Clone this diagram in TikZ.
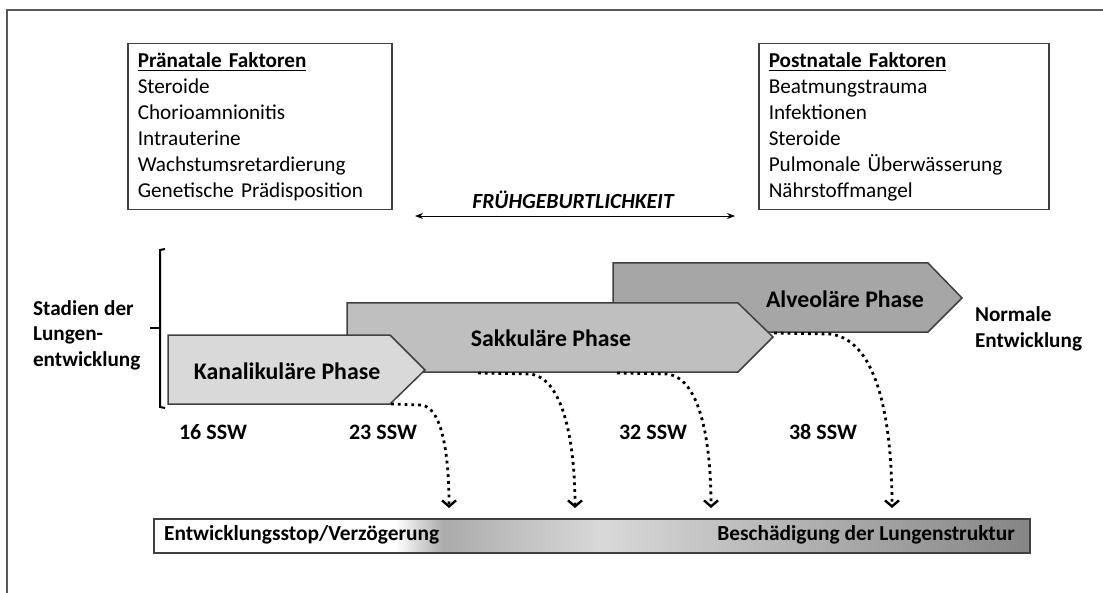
\documentclass[tikz,border=0pt]{standalone}
\usepackage{fontspec}
\setmainfont{Carlito}
\usetikzlibrary{arrows.meta}

\definecolor{rahmen}{HTML}{404040}
\definecolor{kanalgrau}{HTML}{D9D9D9}
\definecolor{sakkgrau}{HTML}{BFBFBF}
\definecolor{alvgrau}{HTML}{A6A6A6}

% bar shading: stops between 25bp and 75bp cover the bar
\pgfdeclarehorizontalshading{schadenbalken}{100bp}{%
  color(0bp)=(white); color(25bp)=(white); color(38.8bp)=(white);
  color(41.5bp)=(black!33); color(50.5bp)=(black!15);
  color(75bp)=(black!48); color(100bp)=(black!48)}

\tikzset{
  faktorbox/.style={draw=rahmen, line width=0.75pt, align=left, anchor=north west,
    inner xsep=5pt, minimum height=83pt,
    font=\fontsize{10.6}{13}\selectfont},
  phase/.style={draw=rahmen, line width=0.75pt},
  phasetext/.style={font=\fontsize{11.9}{14}\selectfont\bfseries},
  ssw/.style={font=\fontsize{11}{13}\selectfont\bfseries},
  randtext/.style={font=\fontsize{10.6}{12.7}\selectfont\bfseries, align=left, anchor=west},
  schaden/.style={-{Straight Barb[length=3pt,width=7pt,line width=1.2pt]},
    line width=1.4pt, dotted},
}

\begin{document}
\begin{tikzpicture}[x=0.5pt, y=-0.5pt]
  \useasboundingbox (0,0) rectangle (1103,593);
  % frame
  \draw [line width=1.2pt, black!65] (1103,10) -- (7,10) -- (7,593);

  % factors
  \node [faktorbox, text width=122pt] (prae) at (127,43)
    {\textbf{\underline{Pränatale Faktoren}}\\ Steroide\\ Chorioamnionitis\\
     Intrauterine\\ Wachstumsretardierung\\ Genetische Prädisposition};
  \node [faktorbox, text width=135pt] (post) at (758,43)
    {\textbf{\underline{Postnatale Faktoren}}\\ Beatmungstrauma\\ Infektionen\\
     Steroide\\ Pulmonale Überwässerung\\ Nährstoffmangel};

  % preterm birth
  \node [font=\fontsize{10.8}{13}\selectfont\bfseries\itshape] (frueh) at (573,200) {FRÜHGEBURTLICHKEIT};
  \coordinate (frueh-l) at (415,216);
  \coordinate (frueh-r) at (735,216);
  \draw [{Stealth[length=4pt,width=3pt]}-{Stealth[length=4pt,width=3pt]}, thin] (frueh-l) -- (frueh-r);

  % stages
  \draw [line width=1pt] (165,249) -- (160,250) -- (160,407) -- (165,408);
  \draw [line width=1pt] (150,328) -- (160,328);
  \node [randtext] (stadien) at (26,335) {Stadien der\\ Lungen-\\ entwicklung};

  \draw [phase, fill=alvgrau] (613,263) -- (928,263) -- (962,298) -- (928,332) -- (613,332) -- cycle;
  \draw [phase, fill=sakkgrau] (347,303) -- (738,303) -- (773,337) -- (738,372) -- (347,372) -- cycle;
  \draw [phase, fill=kanalgrau] (168,335) -- (390,335) -- (425,370) -- (390,404) -- (168,404) -- cycle;
  \node [phasetext] (kanal) at (287,371) {Kanalikuläre Phase};
  \node [phasetext] (sakk) at (551,338) {Sakkuläre Phase};
  \node [phasetext] (alv) at (845,299) {Alveoläre Phase};
  \node [randtext] (normal) at (968,329) {Normale\\ Entwicklung};

  % weeks
  \node [ssw] (w16) at (213,432) {16 SSW};
  \node [ssw] (w23) at (383,432) {23 SSW};
  \node [ssw] (w32) at (653,432) {32 SSW};
  \node [ssw] (w38) at (823,432) {38 SSW};

  % damage bar
  \node [draw=rahmen, line width=0.9pt, shading=schadenbalken, minimum width=438pt,
    minimum height=17pt, inner sep=0pt, anchor=north west] (balken) at (153,518) {};
  \node [font=\fontsize{10.7}{13}\selectfont\bfseries, anchor=west] (stop) at (157,535) {Entwicklungsstop/Verzögerung};
  \node [font=\fontsize{10.7}{13}\selectfont\bfseries, anchor=east] (schad) at (1022,535) {Beschädigung der Lungenstruktur};

  % dotted arrows
  \coordinate (a1) at (391,404);  \coordinate (e1) at (449,508);
  \coordinate (a2) at (478,373);  \coordinate (e2) at (575,508);
  \coordinate (a3) at (617,373);  \coordinate (e3) at (711,508);
  \coordinate (a4) at (774,333);  \coordinate (e4) at (892,508);
  \draw [schaden] (a1) -- ++(30,1) .. controls +(22,2) and +(0,-50) .. (e1);
  \draw [schaden] (a2) -- ++(52,1) .. controls +(35,4) and +(0,-60) .. (e2);
  \draw [schaden] (a3) -- ++(50,1) .. controls +(35,4) and +(0,-60) .. (e3);
  \draw [schaden] (a4) -- ++(56,1) .. controls +(50,6) and +(0,-80) .. (e4);
\end{tikzpicture}
\end{document}
